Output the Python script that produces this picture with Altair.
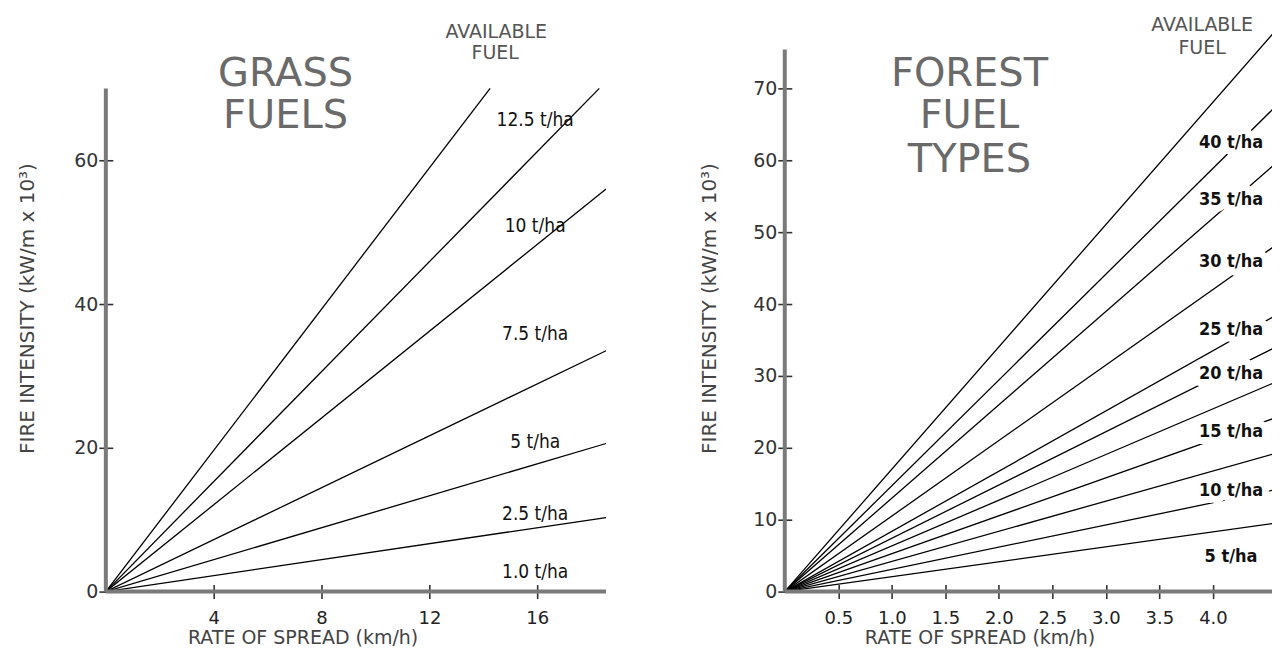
import altair as alt
import pandas as pd

# ---------------- data ----------------
# GRASS FUELS panel: each line runs from the origin to its end point
grass_labels = ["12.5 t/ha", "10 t/ha", "7.5 t/ha", "5 t/ha", "2.5 t/ha", "1.0 t/ha"]
grass_fuel_load = [12.5, 10, 7.5, 5, 2.5, 1.0]
grass_end_rate = [14.25, 18.3, 18.55, 18.55, 18.55, 18.55]
grass_end_intensity = [70.0, 70.0, 56.0, 33.5, 20.6, 10.3]
grass_x_ticks = [4, 8, 12, 16]
grass_y_ticks = [0, 20, 40, 60]
grass_axis_end = [18.55, 70]          # x-axis end, y-axis end

# FOREST FUEL TYPES panel (11 lines, 8 of them labelled); values read at the picture's right edge
forest_fuel_load = [40, 35, 30, 25, 20, 17.5, 15, 12.5, 10, 7.5, 5]
forest_end_rate = [4.627, 4.627, 4.627, 4.627, 4.627, 4.627, 4.627, 4.627, 4.627, 4.627, 4.627]
forest_end_intensity = [78.75, 68.1, 60.1, 48.6, 38.75, 34.3, 29.4, 24.4, 19.4, 14.3, 9.6]
forest_labels = ["40 t/ha", "35 t/ha", "30 t/ha", "25 t/ha", "20 t/ha", "15 t/ha", "10 t/ha", "5 t/ha"]
forest_x_ticks = [0.5, 1.0, 1.5, 2.0, 2.5, 3.0, 3.5, 4.0]
forest_y_ticks = [0, 10, 20, 30, 40, 50, 60, 70]
forest_axis_end = [4.552, 75.4]

X_TITLE = "RATE OF SPREAD (km/h)"
Y_TITLE = "FIRE INTENSITY (kW/m x 10³)"

# ---------------- layout / style ----------------
Y_DOMAIN_MAX = 80
H = 576
W_GRASS = 501
W_FOREST = 488
FONT = "DejaVu Sans"
COND = "DejaVu Sans Condensed"
AXIS_GRAY = "#7a7a7a"

grass_label_px = [(430, 104), (430, 210), (430, 318), (430, 426), (430, 498), (430, 556)]
forest_label_px = [(447, 127), (447, 184), (447, 246), (447, 314), (447, 358), (447, 416), (447, 475), (447, 541)]

ONE = pd.DataFrame({"k": [0]})


def line_table(loads, ex, ey):
    rows = []
    for f, xe, ye in zip(loads, ex, ey):
        rows.append({"fuel": f, "rate": 0.0, "intensity": 0.0, "o": 0})
        rows.append({"fuel": f, "rate": xe, "intensity": ye, "o": 1})
    return pd.DataFrame(rows)


def text(t, x, y, size, color, font=FONT, weight="normal", halo=False):
    kw = dict(font=font, fontSize=size, fontWeight=weight, align="center", baseline="middle")
    layers = []
    if halo:
        layers.append(alt.Chart(ONE).mark_text(stroke="white", strokeWidth=14, strokeJoin="round",
                                               fill="white", **kw).encode(
            x=alt.value(x), y=alt.value(y), text=alt.value(t)))
    layers.append(alt.Chart(ONE).mark_text(fill=color, **kw).encode(
        x=alt.value(x), y=alt.value(y), text=alt.value(t)))
    return layers


def panel(lines, axis_end, width, xticks, yticks, xfmt, ytitle_x, xtitle_x, annotations):
    xs = alt.Scale(domain=[0, axis_end[0]], nice=False, zero=True)
    ys = alt.Scale(domain=[0, Y_DOMAIN_MAX], nice=False, zero=True)
    x_axis = alt.Axis(values=xticks, format=xfmt, domain=False, grid=False, offset=-7,
                      tickSize=14, tickWidth=1.6, tickColor="#333333",
                      labelFont=FONT, labelFontSize=18, labelColor="#222222", labelPadding=11,
                      titleFont=FONT, titleFontSize=19, titleFontWeight="normal", titleColor="#444444",
                      titleX=xtitle_x, titleY=53, titleBaseline="middle", titleAlign="center")
    y_axis = alt.Axis(values=yticks, format="d", domain=False, grid=False, offset=-7,
                      tickSize=14, tickWidth=1.6, tickColor="#333333",
                      labelFont=FONT, labelFontSize=19, labelColor="#333333", labelPadding=1,
                      titleFont=FONT, titleFontSize=20, titleFontWeight="normal", titleColor="#444444",
                      titleX=ytitle_x, titleY=292, titleBaseline="middle", titleAlign="center", titleAngle=270)
    xe = alt.X("rate:Q", scale=xs, axis=x_axis, title=X_TITLE)
    ye = alt.Y("intensity:Q", scale=ys, axis=y_axis, title=Y_TITLE)

    line_layer = alt.Chart(lines).mark_line(color="black", strokeWidth=1.3, clip=True).encode(
        x=xe, y=ye, detail="fuel:N", order="o:Q")
    x_rule = alt.Chart(pd.DataFrame({"rate": [0.0], "rate2": [axis_end[0]], "intensity": [0.0]})).mark_rule(
        color=AXIS_GRAY, strokeWidth=4).encode(x=xe, x2="rate2:Q", y=ye)
    y_rule = alt.Chart(pd.DataFrame({"rate": [0.0], "intensity": [0.0], "intensity2": [axis_end[1]]})).mark_rule(
        color=AXIS_GRAY, strokeWidth=4).encode(x=xe, y=ye, y2="intensity2:Q")
    return alt.layer(line_layer, x_rule, y_rule, *annotations).properties(width=width, height=H)


# ---------------- GRASS FUELS ----------------
g_ann = []
g_ann += text("GRASS", 180, 58, 40, "#6a6a6a")
g_ann += text("FUELS", 180, 100, 40, "#6a6a6a")
g_ann += text("AVAILABLE", 391, 16, 19, "#555555")
g_ann += text("FUEL", 390, 37, 19, "#555555")
for lab, (px, py) in zip(grass_labels, grass_label_px):
    g_ann += text(lab, px, py, 19, "#111111", font=COND)

left = panel(line_table(grass_fuel_load, grass_end_rate, grass_end_intensity), grass_axis_end, W_GRASS,
             grass_x_ticks, grass_y_ticks, "d", -85, 197, g_ann)

# ---------------- FOREST FUEL TYPES ----------------
f_ann = []
f_ann += text("FOREST", 185, 58, 40, "#6a6a6a")
f_ann += text("FUEL", 185, 100, 40, "#6a6a6a")
f_ann += text("TYPES", 185, 144, 40, "#6a6a6a")
f_ann += text("AVAILABLE", 418, 9, 19, "#555555")
f_ann += text("FUEL", 418, 32, 19, "#555555")
for lab, (px, py) in zip(forest_labels, forest_label_px):
    f_ann += text(lab, px, py, 18, "#111111", font=COND, weight="bold", halo=True)

right = panel(line_table(forest_fuel_load, forest_end_rate, forest_end_intensity), forest_axis_end, W_FOREST,
              forest_x_ticks, forest_y_ticks, ".1f", -82, 195, f_ann)

chart = alt.hconcat(left, right, spacing=179, bounds="flush").properties(
    padding={"left": 10, "top": 8, "right": 0, "bottom": 0}
).configure_view(stroke=None)

chart.save("out.html", embed_options={"renderer": "svg", "actions": False})
